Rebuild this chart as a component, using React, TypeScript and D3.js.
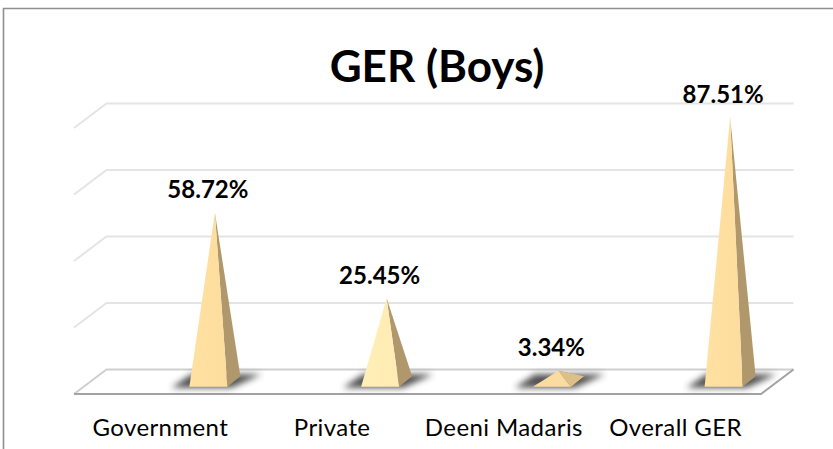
import React from "react";
import * as d3 from "d3";

const title = "GER (Boys)";
const categories = ["Government", "Private", "Deeni Madaris", "Overall GER"];
const valueLabels = ["58.72%", "25.45%", "3.34%", "87.51%"];
const apexReadings = [62.2, 30, 2.7, 98.1];
const gridTicks = [0, 25, 50, 75, 100];
const frontFaceColors = ["#FDDD9E", "#FFEBB3", "#FDDD9E", "#FDDD9E"];

const W = 833;
const H = 449;
const floorFrontY = 394;
const floorBackY = 369.5;
const floorLeft = 74;
const floorRight = 761;
const depthX = 32.5;
const baseFrontY = 386.8;
const baseW = 38;
const baseDX = 13;
const baseDY = 10.5;

const x = d3.scaleBand<string>().domain(categories).range([floorLeft, floorRight]);
const yGrid = d3.scaleLinear().domain([0, 100]).range([floorBackY, 103.5]);
const yApex = d3.scaleLinear().domain([0, 100]).range([378, 112]);
const line = d3.line<[number, number]>();

export default function App() {
  return (
    <svg
      width={W}
      height={H}
      viewBox={`0 0 ${W} ${H}`}
      style={{ position: "fixed", left: 0, top: 0, display: "block", background: "#fff" }}
      fontFamily="Lato, 'Open Sans', sans-serif"
    >
      <defs>
        <filter id="shadowBlur" x="-30%" y="-80%" width="160%" height="260%">
          <feGaussianBlur stdDeviation="3.4" />
        </filter>
        {frontFaceColors.map((c, i) => (
          <linearGradient key={i} id={`front${i}`} x1="0" x2="1" y1="0" y2="0">
            <stop offset="0" stopColor={d3.color(c)!.brighter(0.05).formatHex()} />
            <stop offset="1" stopColor={c} />
          </linearGradient>
        ))}
      </defs>

      {/* outer frame */}
      <path d={`M${W},8.5 H3.5 V${H}`} fill="none" stroke="#8f8f8f" strokeWidth={1.6} />

      {/* gridlines with their left-wall returns */}
      {gridTicks.map((t) =>
        t === 0 ? null : (
          <path
            key={t}
            d={
              line([
                [floorLeft, yGrid(t) + floorFrontY - floorBackY],
                [floorLeft + depthX, yGrid(t)],
                [floorRight + depthX, yGrid(t)],
              ])!
            }
            fill="none"
            stroke="#e4e4e4"
            strokeWidth={2}
          />
        )
      )}

      {/* floor */}
      <path
        d={
          line([
            [floorLeft, floorFrontY],
            [floorLeft + depthX, floorBackY],
            [floorRight + depthX, floorBackY],
          ])!
        }
        fill="none"
        stroke="#cfcfcf"
        strokeWidth={2}
      />
      <path
        d={
          line([
            [floorLeft, floorFrontY],
            [floorRight, floorFrontY],
            [floorRight + depthX, floorBackY],
          ])!
        }
        fill="none"
        stroke="#a3a3a3"
        strokeWidth={2}
      />

      {/* pyramids */}
      {categories.map((c, i) => {
        const bc = x(c)! + x.bandwidth() / 2;
        const fl = bc + 29.5;
        const fr = fl + baseW;
        const cornerX = fr + baseDX;
        const cornerY = baseFrontY - baseDY;
        const apexX = fl + (baseW + baseDX) / 2;
        const apexY = yApex(apexReadings[i]);
        return (
          <g key={c}>
            <path
              d={
                line([
                  [fl - 18, baseFrontY + 1],
                  [fr + 4, baseFrontY + 1],
                  [cornerX + 21, cornerY - 2],
                  [fl + 2, cornerY - 2],
                ])! + "Z"
              }
              fill="#3c3c3c"
              opacity={0.9}
              filter="url(#shadowBlur)"
            />
            <path
              d={line([[fr, baseFrontY], [cornerX, cornerY], [apexX, apexY]])! + "Z"}
              fill="#B0986C"
            />
            <path
              d={line([[fl, baseFrontY], [fr, baseFrontY], [apexX, apexY]])! + "Z"}
              fill={i === 2 ? "#FBDCA0" : `url(#front${i})`}
            />
            {i === 2 && (
              <path
                d={line([[fl + baseW, baseFrontY], [cornerX, cornerY], [apexX, apexY]])! + "Z"}
                fill="#DDBF88"
              />
            )}
            <text
              x={bc + 48}
              y={apexY - 14.5}
              textAnchor="middle"
              fontWeight={700}
              fontSize={24}
              fill="#000"
            >
              {valueLabels[i]}
            </text>
            <text
              x={bc + 0.5}
              y={436}
              textAnchor="middle"
              fontSize={24}
              letterSpacing={0.4}
              fill="#000"
            >
              {c}
            </text>
          </g>
        );
      })}

      <text x={437} y={82} textAnchor="middle" fontWeight={700} fontSize={44} fill="#000">
        {title}
      </text>
    </svg>
  );
}
